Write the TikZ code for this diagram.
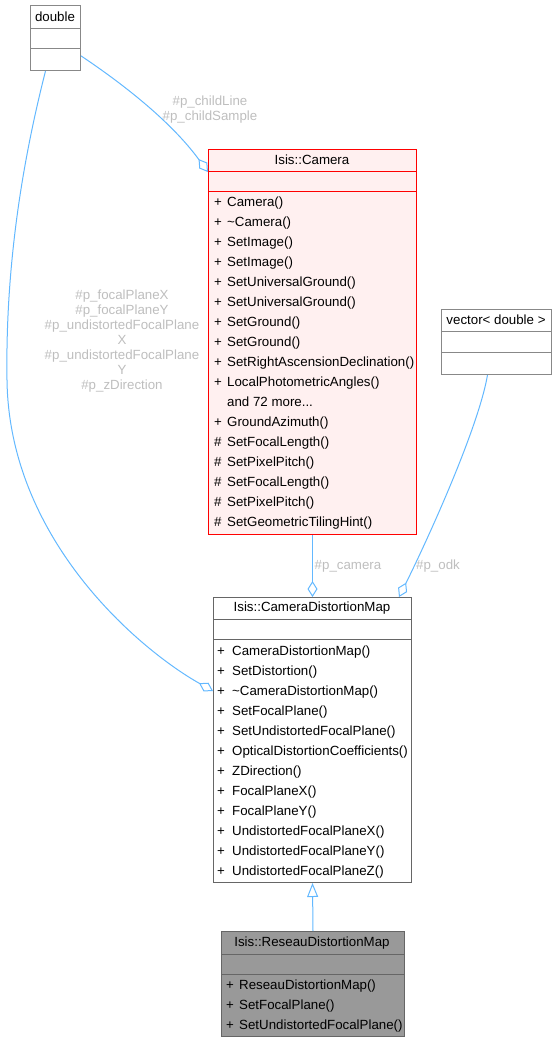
\documentclass[tikz,border=0pt]{standalone}
\usepackage{fontspec}
\setmainfont{Liberation Sans}
\usetikzlibrary{arrows.meta}
\definecolor{edgeblue}{HTML}{63B8FF}
\definecolor{lblgray}{HTML}{BEBEBE}
\definecolor{boxgray}{HTML}{666666}
\definecolor{extgray}{HTML}{888888}
\definecolor{campink}{HTML}{FFF0F0}
\definecolor{basefill}{HTML}{999999}
\newcommand{\camrest}{and 72 more...}

\begin{document}
\begin{tikzpicture}[x=1pt, y=-1pt, font=\fontsize{13.3}{15}\selectfont,
  cls/.style={draw=boxgray, line width=1pt, fill=white, anchor=north west, inner sep=0pt},
  ext/.style={cls, draw=extgray},
  focus/.style={cls, draw=red, fill=campink},
  base/.style={cls, fill=basefill},
  title/.style={inner sep=0pt},
  meth/.style={anchor=base west, inner sep=0pt},
  elabel/.style={text=lblgray, align=center, inner sep=0pt},
  assoc/.style={draw=edgeblue, line width=1pt, -{Diamond[open, length=16pt, width=10pt]}},
  inherit/.style={draw=edgeblue, line width=1pt, -{Triangle[open, length=14pt, width=11pt]}}]
  \useasboundingbox (0,0) rectangle (557,1042);

  % classes
  \node[ext, minimum width=50pt, minimum height=65pt] (dbl) at (30,5) {};
  \node[title] at (55,17) {double};
  \draw[extgray] (30,28) -- (80,28) (30,48) -- (80,48);

  \node[ext, minimum width=110pt, minimum height=65pt] (vec) at (441,309) {};
  \node[title] at (496,320) {vector< double >};
  \draw[extgray] (441,331) -- (551,331) (441,352) -- (551,352);

  \node[focus, minimum width=208pt, minimum height=385pt] (camera) at (208,149) {};
  \node[title] at (312,160) {Isis::Camera};
  \draw[red] (208,171) -- (416,171) (208,191) -- (416,191);
  \foreach \m/\t [count=\i from 0] in {+/Camera(), +/{\textasciitilde Camera()}, +/SetImage(),
      +/SetImage(), +/SetUniversalGround(), +/SetUniversalGround(), +/SetGround(), +/SetGround(),
      +/SetRightAscensionDeclination(), +/LocalPhotometricAngles(), {}/\camrest, +/GroundAzimuth(),
      \#/SetFocalLength(), \#/SetPixelPitch(), \#/SetFocalLength(), \#/SetPixelPitch(),
      \#/SetGeometricTilingHint()} {
    \node[meth] at (214,206+20*\i) {\m};
    \node[meth] at (227,206+20*\i) {\t};
  }

  \node[cls, minimum width=198pt, minimum height=285pt] (cdm) at (213,597) {};
  \node[title] at (312,608) {Isis::CameraDistortionMap};
  \draw[boxgray] (213,619) -- (411,619) (213,639) -- (411,639);
  \foreach \t [count=\i from 0] in {CameraDistortionMap(), SetDistortion(), {\textasciitilde CameraDistortionMap()},
      SetFocalPlane(), SetUndistortedFocalPlane(), OpticalDistortionCoefficients(), ZDirection(),
      FocalPlaneX(), FocalPlaneY(), UndistortedFocalPlaneX(), UndistortedFocalPlaneY(),
      UndistortedFocalPlaneZ()} {
    \node[meth] at (217,655+20*\i) {+};
    \node[meth] at (232,655+20*\i) {\t};
  }

  \node[base, minimum width=183pt, minimum height=105pt] (reseau) at (221,931) {};
  \node[title] at (312,943) {Isis::ReseauDistortionMap};
  \draw[boxgray] (221,954) -- (404,954) (221,974) -- (404,974);
  \foreach \t [count=\i from 0] in {ReseauDistortionMap(), SetFocalPlane(), SetUndistortedFocalPlane()} {
    \node[meth] at (226,989+20*\i) {+};
    \node[meth] at (239,989+20*\i) {\t};
  }

  % relations
  \draw[assoc] (dbl.-35) .. controls (120,82) and (170,120) .. ([yshift=-23pt]camera.north west);
  \draw[assoc] ([xshift=-10pt]dbl.south) .. controls (28,140) and (5,250) .. (7,380)
    .. controls (9,540) and (140,650) .. ([yshift=-94pt]cdm.north west);
  \draw[assoc] (camera.south) -- (cdm.north);
  \draw[assoc] ([xshift=-9pt]vec.south) .. controls (478,430) and (425,545) .. ([xshift=-13pt]cdm.north east);
  \draw[inherit] (reseau.north) -- (cdm.south);

  % labels
  \node[elabel] at (210,110) {\#p\_childLine\\\#p\_childSample};
  \node[elabel] at (122,341) {\#p\_focalPlaneX\\\#p\_focalPlaneY\\\#p\_undistortedFocalPlane\\X\\\#p\_undistortedFocalPlane\\Y\\\#p\_zDirection};
  \node[elabel] at (348,566) {\#p\_camera};
  \node[elabel] at (438,566) {\#p\_odk};
\end{tikzpicture}
\end{document}
